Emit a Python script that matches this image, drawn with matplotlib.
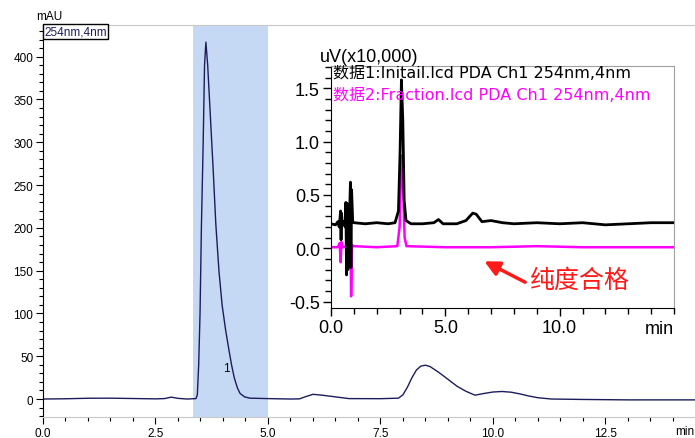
import matplotlib
matplotlib.use("Agg")
import matplotlib.pyplot as plt
from matplotlib.ticker import MultipleLocator

plt.rcParams['font.family'] = ['Liberation Sans', 'Noto Sans CJK SC', 'DejaVu Sans']

# ---- main chromatogram (mAU vs min) ----
main_t = [0.0, 0.5, 1.0, 1.5, 2.0, 2.5, 2.7, 2.85, 3.0, 3.2, 3.40, 3.43, 3.46, 3.49,
          3.52, 3.56, 3.59, 3.62, 3.66, 3.72, 3.78, 3.84, 3.91, 3.98, 4.06, 4.13,
          4.19, 4.25, 4.32, 4.38, 4.48, 4.6, 5.0, 5.5, 5.7, 5.85, 6.0, 6.2, 6.5,
          6.8, 7.5, 7.9, 8.0, 8.1, 8.2, 8.3, 8.4, 8.5, 8.6, 8.8, 9.0, 9.2, 9.4,
          9.6, 9.8, 10.0, 10.2, 10.4, 10.6, 10.8, 11.0, 11.3, 12.0, 13.0, 14.5]
main_v = [0.0, 0.3, 0.9, 1.0, 0.6, 0.2, 0.5, 2.2, 0.8, 0.0, 0.5, 5, 40, 100,
          200, 300, 390, 417, 390, 330, 270, 205, 150, 110, 80, 58,
          40, 25, 13, 6.5, 2.5, 1.0, 0.5, 0.0, 0.2, 3.0, 5.5, 4.5, 2.5,
          0.5, 0.4, 1.0, 5, 14, 25, 34, 38.5, 39.5, 38, 31, 23, 15, 9,
          4.5, 6.5, 8.2, 8.8, 8.0, 6.0, 3.5, 1.5, 0.0, -0.5, -1.0, -1.0]
main_xticks = [0.0, 2.5, 5.0, 7.5, 10.0, 12.5]
main_yticks = [0, 50, 100, 150, 200, 250, 300, 350, 400]
shade_range = (3.33, 5.0)
peak_label = ("1", 4.08, 36)

# ---- inset: two overlaid traces (uV x10,000 vs min) ----
init_t = [0.0, 0.2, 0.3, 0.36, 0.42, 0.44, 0.46, 0.5, 0.55, 0.62, 0.65, 0.68, 0.71,
          0.74, 0.77, 0.8, 0.85, 0.87, 0.9, 0.95, 1.0, 1.5, 2.0, 2.5, 2.8, 2.95,
          3.02, 3.08, 3.14, 3.2, 3.28, 3.5, 4.0, 4.5, 4.7, 4.9, 5.5, 5.9, 6.2,
          6.35, 6.6, 7.0, 7.5, 8.0, 9.0, 10.0, 11.0, 12.0, 13.0, 14.0, 15.0]
init_v = [0.23, 0.22, 0.25, 0.20, 0.35, 0.08, 0.33, 0.22, 0.25, 0.20, 0.43, -0.25, 0.42,
          -0.2, 0.3, 0.22, 0.62, -0.18, 0.55, 0.25, 0.24, 0.23, 0.24, 0.23, 0.24, 0.35,
          0.9, 1.58, 1.2, 0.45, 0.26, 0.23, 0.23, 0.24, 0.27, 0.23, 0.23, 0.26, 0.33,
          0.32, 0.25, 0.26, 0.24, 0.23, 0.24, 0.23, 0.24, 0.22, 0.23, 0.24, 0.24]
frac_t = [0.0, 0.3, 0.38, 0.42, 0.46, 0.5, 0.75, 0.8, 0.85, 0.88, 0.92, 1.0, 2.0,
          2.9, 3.0, 3.06, 3.1, 3.15, 3.22, 3.3, 5.0, 7.0, 9.0, 11.0, 13.0, 15.0]
frac_v = [0.01, 0.01, 0.05, -0.13, 0.06, 0.01, 0.02, 0.02, 0.24, -0.45, 0.03, 0.02, 0.01,
          0.02, 0.2, 0.7, 0.87, 0.6, 0.1, 0.02, 0.01, 0.01, 0.02, 0.01, 0.01, 0.01]
inset_xticks = [0.0, 5.0, 10.0]
inset_yticks = [-0.5, 0.0, 0.5, 1.0, 1.5]
legend_labels = ["数据1:Initail.lcd PDA Ch1 254nm,4nm",
                 "数据2:Fraction.lcd PDA Ch1 254nm,4nm"]
note_text = "纯度合格"

W, H = 695, 439
fig = plt.figure(figsize=(W / 100, H / 100), dpi=100)

# main axes
ax = fig.add_axes([43 / W, 1 - 418 / H, (695 - 43) / W, (418 - 26) / H])
ax.axvspan(*shade_range, color='#c6d9f4', zorder=0, lw=0)
ax.plot(main_t, main_v, color='#1c1c5c', lw=1.0, zorder=2)
ax.set_xlim(0, 14.49)
ax.set_ylim(-21, 437)
ax.set_xticks(main_xticks)
ax.set_xticklabels([f"{v:.1f}" for v in main_xticks])
ax.set_yticks(main_yticks)
ax.xaxis.set_minor_locator(MultipleLocator(0.5))
ax.yaxis.set_minor_locator(MultipleLocator(10))
ax.tick_params(which='major', direction='out', length=5, width=0.8, labelsize=8.5, pad=2, colors='black')
ax.tick_params(which='minor', direction='out', length=3, width=0.8)
ax.spines['right'].set_visible(False)
ax.spines['top'].set_color('#c8c8c8')
ax.spines['bottom'].set_color('#c8c8c8')
ax.spines['left'].set_color('black')
ax.text(*peak_label[1:], peak_label[0], fontsize=8.5, ha='center', va='center')
ax.text(0.002, 0.999, "254nm,4nm", transform=ax.transAxes, fontsize=8.5, color='#1c1c5c',
        ha='left', va='top',
        bbox=dict(boxstyle='square,pad=0.1', fc='white', ec='black', lw=1))
fig.text(36 / W, 1 - 17 / H, "mAU", fontsize=8.5, ha='left', va='center')
fig.text(694 / W, 1 - 432 / H, "min", fontsize=8.5, ha='right', va='center')

# inset axes
ix = fig.add_axes([331 / W, 1 - 309 / H, (674 - 331) / W, (309 - 67) / H])
ix.set_facecolor('white')
ix.plot(init_t, init_v, color='black', lw=2.0, zorder=3)
ix.plot(frac_t, frac_v, color='#ff00ff', lw=1.8, zorder=2)
ix.set_xlim(0, 15)
ix.set_ylim(-0.56, 1.71)
ix.set_xticks(inset_xticks)
ix.set_xticklabels([f"{v:.1f}" for v in inset_xticks])
ix.set_yticks(inset_yticks)
ix.set_yticklabels([f"{v:.1f}" for v in inset_yticks])
ix.xaxis.set_minor_locator(MultipleLocator(1))
ix.yaxis.set_minor_locator(MultipleLocator(0.1))
ix.tick_params(which='major', direction='out', length=6, width=1, labelsize=13, pad=2)
ix.tick_params(which='minor', direction='out', length=4, width=1)
ix.spines['top'].set_color('#a0a0a0')
ix.spines['right'].set_color('#a0a0a0')
ix.spines['left'].set_color('black')
ix.spines['bottom'].set_color('black')
fig.text(320 / W, 1 - 57 / H, "uV(x10,000)", fontsize=13, ha='left', va='center')
fig.text(333 / W, 1 - 74 / H, legend_labels[0], fontsize=11.5, color='black', ha='left', va='center',
         family=['DejaVu Sans', 'Noto Sans CJK SC'])
fig.text(333 / W, 1 - 95 / H, legend_labels[1], fontsize=11.5, color='#ff00ff', ha='left', va='center',
         family=['DejaVu Sans', 'Noto Sans CJK SC'])
fig.text(645 / W, 1 - 329 / H, "min", fontsize=13, ha='left', va='center')

# red annotation
ix.annotate("", xy=(6.6, -0.11), xytext=(8.6, -0.33),
            arrowprops=dict(arrowstyle='-|>', color='#ff1a1a', lw=2.5, mutation_scale=22))
ix.text(10.9, -0.3, note_text, fontsize=18, color='#ff1a1a', ha='center', va='center',
        family=['Noto Sans CJK SC', 'DejaVu Sans'])

fig.savefig("out.png", dpi=100)
